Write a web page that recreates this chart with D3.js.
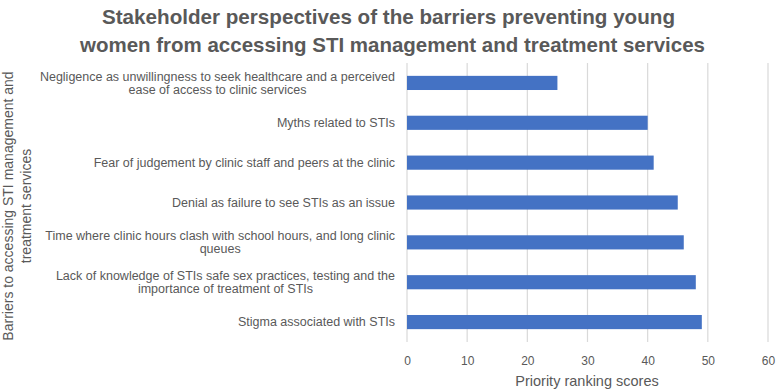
<!DOCTYPE html>
<meta charset="utf-8">
<script src="https://d3js.org/d3.v7.min.js"></script>
<style>
  body { margin: 0; background: #fff; }
  svg text { font-family: "Liberation Sans", Arial, sans-serif; fill: #595959; }
</style>
<div id="chart"></div>
<script>
// data
const barriers = [
  ["Negligence as unwillingness to seek healthcare and a perceived", "ease of access to clinic services"],
  ["Myths related to STIs"],
  ["Fear of judgement by clinic staff and peers at the clinic"],
  ["Denial as failure to see STIs as an issue"],
  ["Time where clinic hours clash with school hours, and long clinic", "queues"],
  ["Lack of knowledge of STIs safe sex practices, testing and the", "importance of treatment of STIs"],
  ["Stigma associated with STIs"]
];
const scores = [25, 40, 41, 45, 46, 48, 49];
const xTicks = [0, 10, 20, 30, 40, 50, 60];
const titleLines = [
  "Stakeholder perspectives of the barriers preventing young",
  "women from accessing STI management and treatment services"
];
const yTitleLines = ["Barriers to accessing STI management and", "treatment services"];
const xTitle = "Priority ranking scores";

const W = 777, H = 392;
const margin = {top: 63, right: 9, bottom: 50, left: 407};
const innerW = W - margin.left - margin.right,
      innerH = H - margin.top - margin.bottom;

const svg = d3.select("#chart").append("svg")
  .attr("width", W).attr("height", H);

const g = svg.append("g")
  .attr("transform", `translate(${margin.left},${margin.top})`);

const data = scores.map((v, i) => ({key: i, lines: barriers[i], value: v}));

const x = d3.scaleLinear().domain([0, 60]).range([0, innerW]);
const y = d3.scaleBand()
  .domain(data.map(d => d.key))
  .range([0, innerH])
  .paddingInner(0.645)
  .paddingOuter(0.3225);

// gridlines
g.selectAll(".grid")
  .data(xTicks)
  .join("line")
    .attr("x1", d => x(d)).attr("x2", d => x(d))
    .attr("y1", 0).attr("y2", innerH)
    .attr("stroke", "#d9d9d9")
    .attr("stroke-width", 1.2);

// bars
g.selectAll(".bar")
  .data(data)
  .join("rect")
    .attr("x", x(0))
    .attr("y", d => y(d.key))
    .attr("width", d => x(d.value) - x(0))
    .attr("height", y.bandwidth())
    .attr("fill", "#4472c4");

// x axis tick labels
const xAxis = g.append("g")
  .attr("transform", `translate(0,${innerH})`)
  .call(d3.axisBottom(x).tickValues(xTicks).tickSize(0).tickPadding(14));
xAxis.select(".domain").remove();
xAxis.selectAll("text")
  .style("font-family", "'Liberation Sans', Arial, sans-serif")
  .style("font-size", "12px")
  .attr("fill", "#595959");

// category labels, wrapped lines centred within a right-aligned block
const labelRight = 395 - margin.left;
const lab = g.selectAll(".lab")
  .data(data)
  .join("g")
    .attr("transform", d => `translate(0,${y(d.key) + y.bandwidth() / 2})`);
lab.each(function(d) {
  const el = d3.select(this);
  const n = d.lines.length;
  const ts = d.lines.map((t, i) => el.append("text")
    .attr("y", (i - (n - 1) / 2) * 13.5)
    .attr("dy", "0.35em")
    .attr("text-anchor", "middle")
    .style("font-size", "12.5px")
    .text(t));
  const wMax = d3.max(ts, t => t.node().getComputedTextLength());
  ts.forEach(t => t.attr("x", labelRight - wMax / 2));
});

// title
svg.selectAll(".title")
  .data(titleLines)
  .join("text")
    .attr("x", (d, i) => i === 0 ? 102 : 80)
    .attr("y", (d, i) => 24 + i * 28)
    .attr("textLength", (d, i) => i === 0 ? 573 : 625)
    .attr("lengthAdjust", "spacingAndGlyphs")
    .style("font-size", "21px")
    .style("font-weight", "bold")
    .text(d => d);

// y axis title
svg.selectAll(".ytitle")
  .data(yTitleLines)
  .join("text")
    .attr("transform", (d, i) => `translate(${13 + i * 18},${206}) rotate(-90)`)
    .attr("text-anchor", "middle")
    .style("font-size", "14px")
    .text(d => d);

// x axis title
svg.append("text")
  .attr("x", 587)
  .attr("y", 386)
  .attr("text-anchor", "middle")
  .style("font-size", "14.5px")
  .text(xTitle);
</script>
